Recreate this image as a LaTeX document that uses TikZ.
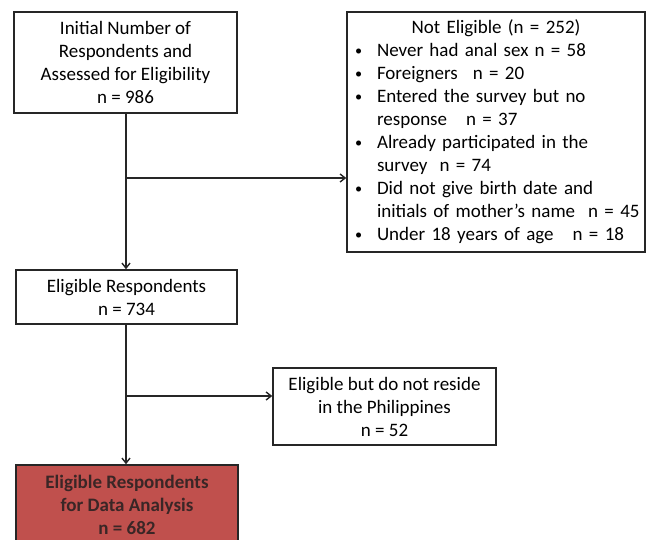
\documentclass[tikz,border=0pt]{standalone}
\usepackage{fontspec}
\setmainfont{Carlito}
\usepackage{xcolor}
\usetikzlibrary{arrows.meta}

\definecolor{boxline}{HTML}{262626}
\definecolor{finalred}{HTML}{C0504D}
\definecolor{finaltext}{HTML}{3A2626}

\newcommand{\bul}{\makebox[23pt][l]{\hspace{1pt}\raisebox{1pt}{\scalebox{0.75}{\textbullet}}}}
\newcommand{\bulitem}[1]{\par\noindent\hangindent=23pt\hangafter=1\bul\mbox{#1}}
\newcommand{\bulmore}[1]{\newline\mbox{#1}}

\begin{document}
\begin{tikzpicture}[x=1pt,y=-1pt]
\tikzstyle{every node}+=[font=\fontsize{19}{23}\selectfont]
\tikzstyle{flowbox}=[draw=boxline, line width=1.6pt, rectangle, align=center, inner sep=0pt]
\tikzstyle{flowline}=[draw=boxline, line width=1.6pt]
\tikzstyle{flowarrow}=[flowline, -{Straight Barb[length=5pt,width=8pt,line width=1.4pt]}]
\useasboundingbox (0,0) rectangle (647,540);
\node [flowbox, minimum width=223pt, minimum height=101pt] (init) at (125.5,62.5)
  {Initial Number of\\Respondents and\\Assessed for Eligibility\\n = 986};
\node [draw=boxline, line width=1.6pt, rectangle, inner sep=0pt,
  minimum width=298pt, minimum height=240pt, text width=284pt] (notelig) at (496,132)
  {\raggedright\hbadness=10000\hfuzz=100pt
  {\centering Not Eligible (n = 252)\par}
  \bulitem{Never had anal sex\hspace{6pt}n = 58}
  \bulitem{Foreigners\hspace{15pt}n = 20}
  \bulitem{Entered the survey but no}\bulmore{response\hspace{19pt}n = 37}
  \bulitem{Already participated in the}\bulmore{survey\hspace{12pt}n = 74}
  \bulitem{Did not give birth date and}\bulmore{initials of mother’s name\hspace{13pt}n = 45}
  \bulitem{Under 18 years of age\hspace{19pt}n = 18}\par};
\node [flowbox, minimum width=221pt, minimum height=54pt] (elig) at (126.5,297)
  {Eligible Respondents\\n = 734};
\node [flowbox, minimum width=223pt, minimum height=77pt] (nores) at (384.5,406.5)
  {Eligible but do not reside\\in the Philippines\\n = 52};
\node [flowbox, fill=finalred, text=finaltext, font=\fontsize{19}{23}\selectfont\bfseries,
  minimum width=222pt, minimum height=80pt] (final) at (127,505)
  {Eligible Respondents\\for Data Analysis\\n = 682};
% junctions on the main line
\coordinate (j1) at (126,178);
\coordinate (j2) at (126,396);
\draw [flowarrow] (init.south -| j1) -- (elig.north -| j1);
\draw [flowarrow] (j1) -- (j1 -| notelig.west);
\draw [flowarrow] (elig.south -| j2) -- (final.north -| j2);
\draw [flowarrow] (j2) -- (j2 -| nores.west);
\end{tikzpicture}
\end{document}
